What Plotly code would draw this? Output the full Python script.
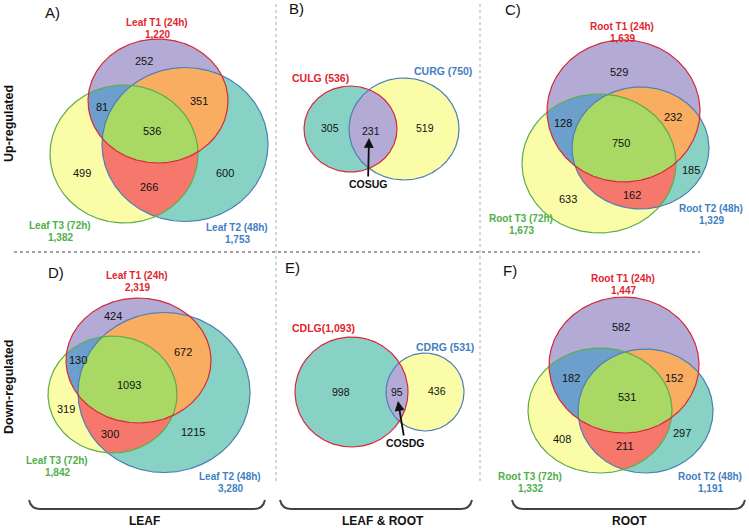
import numpy as np
import plotly.graph_objects as go

# ---------------- data ----------------
# region order for 3-set panels: [T1 only, T2 only, T3 only, T1&T2, T1&T3, T2&T3, all]
leaf_up_regions = [252, 600, 499, 351, 81, 266, 536]
leaf_up_totals = ["1,220", "1,753", "1,382"]
root_up_regions = [529, 185, 633, 232, 128, 162, 750]
root_up_totals = ["1,639", "1,329", "1,673"]
leaf_down_regions = [424, 1215, 319, 672, 130, 300, 1093]
leaf_down_totals = ["2,319", "3,280", "1,842"]
root_down_regions = [582, 297, 408, 152, 182, 211, 531]
root_down_totals = ["1,447", "1,191", "1,332"]
# 2-set panels: [left only, overlap, right only]
common_up_regions = [305, 231, 519]
common_up_names = ["CULG (536)", "CURG (750)", "COSUG"]
common_down_regions = [998, 95, 436]
common_down_names = ["CDLG(1,093)", "CDRG (531)", "COSDG"]
leaf_set_names = ["Leaf T1 (24h)", "Leaf T2 (48h)", "Leaf T3 (72h)"]
root_set_names = ["Root T1 (24h)", "Root T2 (48h)", "Root T3 (72h)"]
panel_letters = ["A)", "B)", "C)", "D)", "E)", "F)"]
row_labels = ["Up-regulated", "Down-regulated"]
column_labels = ["LEAF", "LEAF & ROOT", "ROOT"]

# ---------------- styling ----------------
FONT = "Liberation Sans, Arial, sans-serif"
C_T1, C_T2, C_T3 = "#b3abd6", "#88d2c5", "#fbfca8"
C_12, C_13, C_23, C_123 = "#f9ad60", "#6d9fcc", "#f6786c", "#a9d964"
B_RED, B_BLUE, B_GREEN = "#d8283a", "#4b7fb6", "#5aae4a"
L_RED, L_BLUE, L_GREEN = "#e0262f", "#3f80c2", "#4fb049"

fig = go.Figure()


def ell_pts(c, r, n=900):
    t = np.linspace(0, 2 * np.pi, n, endpoint=False)
    return np.c_[c[0] + r[0] * np.cos(t), c[1] + r[1] * np.sin(t)]


def inside(p, e):
    (cx, cy), (rx, ry) = e
    return ((p[:, 0] - cx) / rx) ** 2 + ((p[:, 1] - cy) / ry) ** 2 <= 1.0 + 1e-9


def region(ells):
    pts = []
    for i, e in enumerate(ells):
        p = ell_pts(*e)
        m = np.ones(len(p), bool)
        for j, o in enumerate(ells):
            if j != i:
                m &= inside(p, o)
        pts.append(p[m])
    pts = np.vstack(pts)
    cen = pts.mean(axis=0)
    ang = np.arctan2(pts[:, 1] - cen[1], pts[:, 0] - cen[0])
    pts = pts[np.argsort(ang)]
    return np.vstack([pts, pts[:1]])


def fill(pts, color):
    fig.add_trace(go.Scatter(x=pts[:, 0], y=pts[:, 1], mode="lines", fill="toself",
                             fillcolor=color, line=dict(width=0, color=color),
                             hoverinfo="skip", showlegend=False))


def outline(e, color):
    p = ell_pts(*e)
    p = np.vstack([p, p[:1]])
    fig.add_trace(go.Scatter(x=p[:, 0], y=p[:, 1], mode="lines",
                             line=dict(width=1.2, color=color),
                             hoverinfo="skip", showlegend=False))


def txt(x, y, s, size=11, color="#111", bold=False, **kw):
    fig.add_annotation(x=x, y=y, text=f"<b>{s}</b>" if bold else str(s), showarrow=False,
                       font=dict(family=FONT, size=size, color=color), **kw)


def venn3(ells, counts, pos, names, totals, name_pos):
    e1, e2, e3 = ells
    fill(np.vstack([ell_pts(*e1), ell_pts(*e1)[:1]]), C_T1)
    fill(np.vstack([ell_pts(*e2), ell_pts(*e2)[:1]]), C_T2)
    fill(np.vstack([ell_pts(*e3), ell_pts(*e3)[:1]]), C_T3)
    fill(region([e1, e2]), C_12)
    fill(region([e1, e3]), C_13)
    fill(region([e2, e3]), C_23)
    fill(region([e1, e2, e3]), C_123)
    outline(e2, B_BLUE)
    outline(e3, B_GREEN)
    outline(e1, B_RED)
    for v, (x, y) in zip(counts, pos):
        txt(x, y, v)
    for nm, tot, (x, y), col in zip(names, totals, name_pos, [L_RED, L_BLUE, L_GREEN]):
        txt(x, y, nm, size=10, color=col, bold=True)
        txt(x, y + 12, tot, size=10, color=col, bold=True)


def venn2(ells, counts, pos, names, name_pos, arrow):
    e1, e2 = ells
    fill(np.vstack([ell_pts(*e1), ell_pts(*e1)[:1]]), C_T2)
    fill(np.vstack([ell_pts(*e2), ell_pts(*e2)[:1]]), C_T3)
    fill(region([e1, e2]), C_T1)
    outline(e2, B_BLUE)
    outline(e1, B_RED)
    for v, (x, y) in zip(counts, pos):
        txt(x, y, v, size=10.5)
    txt(name_pos[0][0], name_pos[0][1], names[0], size=10.5, color=L_RED, bold=True)
    txt(name_pos[1][0], name_pos[1][1], names[1], size=10.5, color=L_BLUE, bold=True)
    (tx, ty), (hx, hy) = arrow
    fig.add_annotation(x=hx, y=hy, ax=tx, ay=ty, axref="x", ayref="y", xref="x", yref="y",
                       text=f"<b>{names[2]}</b>", showarrow=True, arrowhead=2, arrowsize=1.1,
                       arrowwidth=1.8, arrowcolor="#111",
                       font=dict(family=FONT, size=10.5, color="#111"))


# ---------------- panels ----------------
venn3([((158, 101), (70, 62)), ((185, 144.5), (83, 77)), ((124, 154), (74, 69))],
      leaf_up_regions,
      [(144, 61), (225, 173), (82, 173), (199, 101), (102, 107), (149, 187), (152, 131)],
      leaf_set_names, leaf_up_totals, [(157, 22), (237, 227), (60, 225)])

venn2([((350.5, 129), (46.5, 43)), ((404, 129), (55, 51))],
      common_up_regions, [(330, 128), (371, 131), (425, 128)],
      common_up_names, [(320, 78), (443, 71)], [(368, 184), (369, 138)])

venn3([((623.5, 111), (76.5, 71)), ((640.5, 148), (68.5, 61)), ((599, 163.5), (77, 69.5))],
      root_up_regions,
      [(619, 72), (691, 170), (568, 199), (673, 117), (563, 123), (632, 195), (621, 143)],
      root_set_names, root_up_totals, [(622, 26), (711, 208), (521, 218)])

venn3([((138.5, 360.5), (72.5, 62.5)), ((164, 392.5), (86, 80)), ((112.5, 394.5), (64.5, 58.5))],
      leaf_down_regions,
      [(113, 316), (193, 432), (66, 409), (183, 352), (78, 360), (110, 434), (129, 385)],
      leaf_set_names, leaf_down_totals, [(137, 275), (230, 476), (57, 460)])

venn2([((351.5, 392), (56.5, 55)), ((425, 392), (39, 39))],
      common_down_regions, [(341, 392), (397, 392), (437, 391)],
      common_down_names, [(323, 328), (445, 347)], [(405, 443), (398, 401)])

venn3([((624, 365), (75, 68)), ((645.5, 411), (67.5, 62)), ((600, 410.5), (72, 62.5))],
      root_down_regions,
      [(621, 327), (682, 433), (562, 439), (674, 378), (571, 378), (625, 446), (627, 397)],
      root_set_names, root_down_totals, [(623, 278), (710, 476), (530, 476)])

# panel letters
for s, (x, y) in zip(panel_letters, [(52, 12), (296, 8), (513, 9), (56, 272), (292, 267), (510, 270)]):
    txt(x, y, s, size=15, color="#111")

# row labels
txt(9, 124, row_labels[0], size=12.5, bold=True, textangle=-90)
txt(9, 387, row_labels[1], size=12.5, bold=True, textangle=-90)

# column labels
for s, x in zip(column_labels, [144, 383, 629]):
    txt(x, 521, s, size=12, bold=True)

# separators
shapes = [
    dict(type="line", x0=14, x1=700, y0=252, y1=252, line=dict(color="#444", width=1, dash="3px,3px")),
    dict(type="line", x0=276, x1=276, y0=4, y1=484, line=dict(color="#aaa", width=1, dash="dot")),
    dict(type="line", x0=480, x1=480, y0=4, y1=484, line=dict(color="#aaa", width=1, dash="dot")),
]
for a, b in [(29, 265), (280, 472), (512, 745)]:
    shapes.append(dict(type="path",
                       path=f"M {a},500 Q {a+2},509 {a+11},509 L {b-11},509 Q {b-2},509 {b},500",
                       line=dict(color="#444", width=2)))
fig.update_layout(shapes=shapes)

fig.update_xaxes(range=[0, 749], visible=False, fixedrange=True)
fig.update_yaxes(range=[528, 0], visible=False, fixedrange=True)
fig.update_layout(width=749, height=528, margin=dict(l=0, r=0, t=0, b=0),
                  plot_bgcolor="white", paper_bgcolor="white", showlegend=False)
fig.write_html("out.html", config={"displayModeBar": False},
               post_script="document.body.style.margin='0';document.body.style.overflow='hidden';")
